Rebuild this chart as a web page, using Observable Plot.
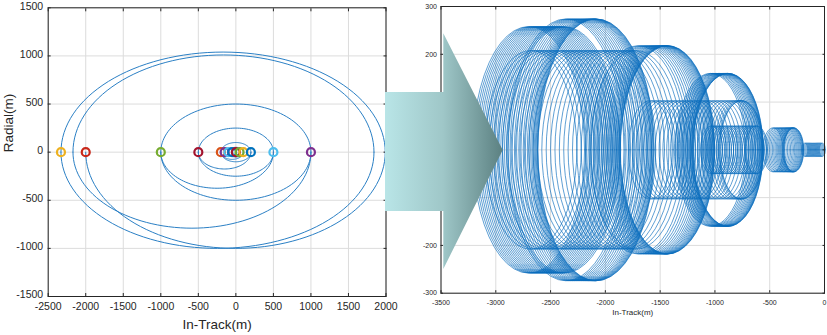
<!DOCTYPE html>
<html><head><meta charset="utf-8">
<script src="https://cdn.jsdelivr.net/npm/d3@7"></script>
<script src="https://cdn.jsdelivr.net/npm/@observablehq/plot@0.6"></script>
<style>
html,body{margin:0;padding:0;background:#fff;}
#wrap{position:relative;width:827px;height:335px;overflow:hidden;background:#fff;}
#left{position:absolute;left:0;top:0;}
#right{position:absolute;left:400px;top:0;}
#arrow{position:absolute;left:0;top:0;pointer-events:none;}
</style></head><body>
<div id="wrap">
<div id="left"></div>
<div id="right"></div>
<svg id="arrow" width="827" height="335">
<defs><linearGradient id="ag" gradientUnits="userSpaceOnUse" x1="385" y1="0" x2="503" y2="0">
<stop offset="0" stop-color="#b9e5e7"/><stop offset="0.49" stop-color="#9fc7c8"/><stop offset="1" stop-color="#5b8081"/>
</linearGradient></defs>
<polygon points="385,92 443.3,92 443.3,33.3 502.7,150 443.3,269 443.3,211 385,211" fill="url(#ag)"/>
</svg>
</div>
<script>
// ---------- Left panel data ----------
const leftXTicks = [-2500,-2000,-1500,-1000,-500,0,500,1000,1500,2000];
const leftYTicks = [-1500,-1000,-500,0,500,1000,1500];
// half-ellipse arcs between V-bar crossings (start, end, radial peak)
const arcFrom = [-2330,-2170,-1000,-500,-200,-100,-50, -2000,-2330,-2170,-1000,-1000,-500,-500,-200,-200,-100,-100,-50];
const arcTo   = [ 1990, 1840, 1000, 500, 200, 100, 50,  1990, 1840, 1000, 1000,  500, 500, 200, 200, 100, 100,  50, 50];
const arcPeak = [ 1040, 1010,  500, 250, 100,  50, 25, -1000,-1000, -790, -500, -375,-250,-175,-100, -75, -50, -38,-25];
const markX = [-2330,-2000,-1000,-500,-200,-150,-100,-50,0,50,100,200,500,1000];
const markColor = ["#EDB120","#C8281A","#77AC30","#A2142F","#D95319","#7E2F8E","#4DBEEE","#0072BD","#A2142F","#77AC30","#EDB120","#0072BD","#4DBEEE","#7E2F8E"];

// ---------- Right panel data ----------
const rightXTicks = [-3500,-3000,-2500,-2000,-1500,-1000,-500,0];
const rightYTicks = [-300,-200,-100,0,100,200,300];
const rightYLabels = [-300,-200,200,300];
// loop groups: radial amplitude, in-track half width, loop centres
const loopAmp  = [258, 274, 208, 218, 160, 103, 50, 46, 14];
const loopHalf = [510, 530, 420, 430, 320, 200, 100, 90, 28];
const loopsA1 = [-2700,-2683,-2666,-2649,-2632,-2615,-2598,-2581,-2564,-2547,-2530,-2513,-2496,-2479,-2462,-2445,-2428,-2411,-2394,-2377];
const loopsA2 = [-2360,-2340,-2320,-2300,-2280,-2260,-2240,-2220,-2200,-2182,-2166,-2152,-2140,-2129,-2119,-2110,-2102,-2095,-2089,-2085];
const loopsB1 = [-2680,-2640,-2600,-2560,-2520,-2480,-2440,-2400,-2360,-2320,-2280,-2240,-2200,-2160,-2120,-2080,-2040,-2000,-1960,-1920,-1880,-1840,-1800,-1760,-1720];
const loopsB2 = [-1700,-1675,-1650,-1628,-1606,-1586,-1567,-1550,-1535,-1521,-1508,-1496,-1485,-1475,-1466,-1458,-1451,-1445,-1440,-1436,-1433];
const loopsC  = [-1040,-1025,-1010,-996,-982,-969,-957,-945,-934,-924,-915,-907,-900,-894,-889,-885,-882,-880];
const loopsD  = [-1590,-1555,-1520,-1485,-1450,-1415,-1380,-1345,-1310,-1275,-1240,-1205,-1170,-1135,-1100,-1065,-1030,-995,-960,-925,-890,-858,-830,-806,-786,-770,-760,-755];
const loopsE  = [-1030,-1010,-990,-970,-950,-930,-910,-890,-870,-850,-830,-810,-790,-770,-750,-730,-710,-690,-670,-650,-630,-620];
const loopsF  = [-470,-455,-440,-426,-412,-399,-386,-374,-362,-351,-341,-331,-322,-313,-305,-298,-292,-287,-283,-280];
const loopsG  = [-180,-170,-160,-150,-140,-130,-120,-110,-100,-90,-80,-70,-60,-50,-40,-30,-20];
const loopGroups = [loopsA1, loopsA2, loopsB1, loopsB2, loopsC, loopsD, loopsE, loopsF, loopsG];

// ---------- build shapes ----------
const arcPts = [];
arcFrom.forEach((x1, i) => {
  const x2 = arcTo[i], c = (x1 + x2) / 2, a = (x2 - x1) / 2, p = arcPeak[i];
  for (let k = 0; k <= 64; k++) {
    const t = Math.PI * k / 64;
    arcPts.push({id: i, x: c - a * Math.cos(t), y: p * Math.sin(t)});
  }
});
const markers = markX.map((x, i) => ({x, y: 0, c: markColor[i]}));

const loopPts = [];
let lid = 0;
loopGroups.forEach((centers, g) => {
  const b = loopAmp[g], a = loopHalf[g];
  centers.forEach(c => {
    for (let k = 0; k <= 48; k++) {
      const t = 2 * Math.PI * k / 48;
      loopPts.push({id: lid, x: c + a * Math.cos(t), y: b * Math.sin(t)});
    }
    lid++;
  });
});

const FONT = "'Liberation Sans', Arial, Helvetica, sans-serif";
const fmt = d => String(d);

const left = Plot.plot({
  width: 400, height: 335,
  marginLeft: 47.7, marginRight: 14.5, marginTop: 7.3, marginBottom: 39,
  style: {fontFamily: FONT, fontSize: "10.5px", color: "#262626", background: "transparent"},
  x: {domain: [-2500, 2000]},
  y: {domain: [-1500, 1500]},
  color: {type: "identity"},
  marks: [
    Plot.gridX(leftXTicks, {stroke: "#dcdcdc", strokeOpacity: 1}),
    Plot.gridY(leftYTicks, {stroke: "#dcdcdc", strokeOpacity: 1}),
    Plot.line(arcPts, {x: "x", y: "y", z: "id", stroke: "#2b80c5", strokeWidth: 1}),
    Plot.dot(markers, {x: "x", y: "y", r: 4, stroke: "c", strokeWidth: 2.2, fill: "none"}),
    Plot.frame({stroke: "#262626"}),
    Plot.axisX(leftXTicks, {anchor: "bottom", tickSize: -3, tickPadding: 9.5, tickFormat: fmt, label: null, fontSize: 10.5, stroke: "#262626", fill: "#262626"}),
    Plot.axisX(leftXTicks, {anchor: "top", tickSize: -3, label: null, fill: "none", stroke: "#262626"}),
    Plot.axisY(leftYTicks, {anchor: "left", tickSize: -3, label: null, fill: "none", stroke: "#262626"}),
    Plot.axisY(leftYTicks, {anchor: "left", tickSize: 0, tickPadding: 5, dy: -1.5, tickFormat: fmt, label: null, fontSize: 10.5, fill: "#262626"}),
    Plot.axisY(leftYTicks, {anchor: "right", tickSize: -3, label: null, fill: "none", stroke: "#262626"}),
    Plot.text(["In-Track(m)"], {text: d => d, frameAnchor: "bottom", lineAnchor: "bottom", dy: 32, fontSize: 13.5, fill: "#262626"}),
    Plot.text(["Radial(m)"], {text: d => d, frameAnchor: "left", rotate: -90, dx: -40, fontSize: 13.5, fill: "#262626"})
  ]
});
document.getElementById("left").appendChild(left);

const right = Plot.plot({
  width: 427, height: 335,
  marginLeft: 40.5, marginRight: 3, marginTop: 6, marginBottom: 42.3,
  style: {fontFamily: FONT, fontSize: "7px", color: "#262626", background: "transparent"},
  x: {domain: [-3500, 0]},
  y: {domain: [-300, 300]},
  marks: [
    Plot.gridX(rightXTicks, {stroke: "#dcdcdc", strokeOpacity: 1}),
    Plot.gridY(rightYTicks, {stroke: "#dcdcdc", strokeOpacity: 1}),
    Plot.line(loopPts, {x: "x", y: "y", z: "id", stroke: "#0a6cbd", strokeWidth: 0.65}),
    Plot.frame({stroke: "#262626"}),
    Plot.axisX(rightXTicks, {anchor: "bottom", tickSize: -2.5, tickPadding: 9, tickFormat: fmt, label: null, fontSize: 7, stroke: "#262626", fill: "#262626"}),
    Plot.axisX(rightXTicks, {anchor: "top", tickSize: -2.5, label: null, fill: "none", stroke: "#262626"}),
    Plot.axisY(rightYTicks, {anchor: "left", tickSize: -2.5, label: null, fill: "none", stroke: "#262626"}),
    Plot.axisY(rightYLabels, {anchor: "left", tickSize: 0, tickPadding: 4, tickFormat: fmt, label: null, fontSize: 7, fill: "#262626"}),
    Plot.axisY(rightYTicks, {anchor: "right", tickSize: -2.5, label: null, fill: "none", stroke: "#262626"}),
    Plot.text(["In-Track(m)"], {text: d => d, frameAnchor: "bottom", lineAnchor: "bottom", dy: 21.3, fontSize: 8, fill: "#262626"})
  ]
});
document.getElementById("right").appendChild(right);
</script>
</body></html>
